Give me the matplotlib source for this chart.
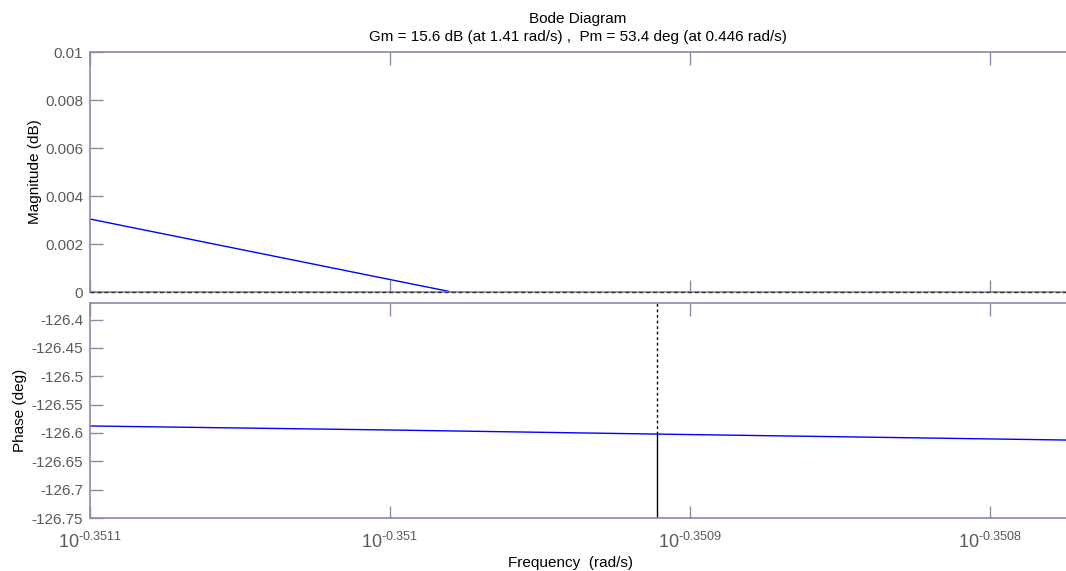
import matplotlib
matplotlib.use("Agg")
import matplotlib.pyplot as plt
import numpy as np

# ---- data ----
freq_exponents_mag = [-0.3511, -0.3507747]          # log10(rad/s)
magnitude_db = [0.00304, -0.00516]
freq_exponents_phase = [-0.3511, -0.351, -0.350911, -0.3507747]
phase_deg = [-126.5877, -126.5948, -126.6020, -126.6125]
pm_freq_exponent = -0.350911
pm_phase = -126.6020
xtick_exponents = [-0.3511, -0.351, -0.3509, -0.3508]
xtick_labels = [r"$10^{\text{-0.3511}}$", r"$10^{\text{-0.351}}$", r"$10^{\text{-0.3509}}$", r"$10^{\text{-0.3508}}$"]
mag_ticks = [0, 0.002, 0.004, 0.006, 0.008, 0.01]
mag_tick_labels = ["0", "0.002", "0.004", "0.006", "0.008", "0.01"]
phase_ticks = [-126.75, -126.7, -126.65, -126.6, -126.55, -126.5, -126.45, -126.4]
phase_tick_labels = ["-126.75", "-126.7", "-126.65", "-126.6", "-126.55", "-126.5", "-126.45", "-126.4"]
title_lines = ["Bode Diagram", "Gm = 15.6 dB (at 1.41 rad/s) ,  Pm = 53.4 deg (at 0.446 rad/s)"]

plt.rcParams['font.family'] = ['Liberation Sans', 'DejaVu Sans']
plt.rcParams['mathtext.fontset'] = 'custom'
plt.rcParams['mathtext.rm'] = 'Liberation Sans'
plt.rcParams['mathtext.it'] = 'Liberation Sans'
plt.rcParams['mathtext.bf'] = 'Liberation Sans'
plt.rcParams['axes.unicode_minus'] = False

W, H = 1066, 571
fig = plt.figure(figsize=(W / 100, H / 100), dpi=100)

axcol = '#8a8aaa'
tickcol = '#5a5a5a'
xmin, xmax = 10 ** freq_exponents_mag[0], 10 ** freq_exponents_mag[-1]

def fpos(l, t, r, b):
    return [l / W, 1 - b / H, (r - l) / W, (b - t) / H]

ax1 = fig.add_axes(fpos(90, 52, 1066, 292))
ax2 = fig.add_axes(fpos(90, 303, 1066, 518))

for ax in (ax1, ax2):
    ax.set_xscale('log')
    ax.set_xlim(xmin, xmax)
    for s in ('left', 'top', 'bottom'):
        ax.spines[s].set_color(axcol)
        ax.spines[s].set_linewidth(1.2)
    ax.spines['right'].set_visible(False)
    ax.set_xticks([10 ** e for e in xtick_exponents])
    ax.xaxis.set_minor_locator(matplotlib.ticker.NullLocator())
    ax.tick_params(axis='both', direction='in', length=9, width=1, color=axcol,
                   labelcolor=tickcol, labelsize=11, top=True, pad=4)
    ax.tick_params(axis='y', pad=5)

# magnitude
fm = [10 ** e for e in freq_exponents_mag]
ax1.plot(fm, magnitude_db, color='#0000ff', lw=1.0)
ax1.axhline(0, color='#333333', lw=1.0, ls=(0, (3, 2)), zorder=5, clip_on=False)
ax1.set_ylim(0, 0.01)
ax1.set_yticks(mag_ticks)
ax1.set_yticklabels(mag_tick_labels)
ax1.set_xticklabels([])
ax1.set_ylabel("Magnitude (dB)", fontsize=11)
ax1.yaxis.set_label_coords(-48 / 976, 0.5)

# phase
fp = [10 ** e for e in freq_exponents_phase]
ax2.plot(fp, phase_deg, color='#0000ff', lw=1.0)
ax2.set_ylim(-126.75, -126.3708)
pmf = 10 ** pm_freq_exponent
ax2.plot([pmf, pmf], [-126.75, pm_phase], color='black', lw=1.0)
ax2.plot([pmf, pmf], [pm_phase, -126.3708], color='black', lw=1.0, ls=(0, (2, 2)))
ax2.set_yticks(phase_ticks)
ax2.set_yticklabels(phase_tick_labels)
ax2.set_xticklabels(xtick_labels)
ax2.tick_params(axis='x', labelsize=13, pad=10)
ax2.set_ylabel("Phase (deg)", fontsize=11)
ax2.yaxis.set_label_coords(-63 / 976, 0.5)

fig.text(578 / W, 1 - 19 / H, title_lines[0], ha='center', va='center', fontsize=11)
fig.text(578 / W, 1 - 37 / H, title_lines[1], ha='center', va='center', fontsize=11)
fig.text(570 / W, 1 - 563 / H, "Frequency  (rad/s)", ha='center', va='center', fontsize=11)

fig.savefig("out.png", dpi=100)
